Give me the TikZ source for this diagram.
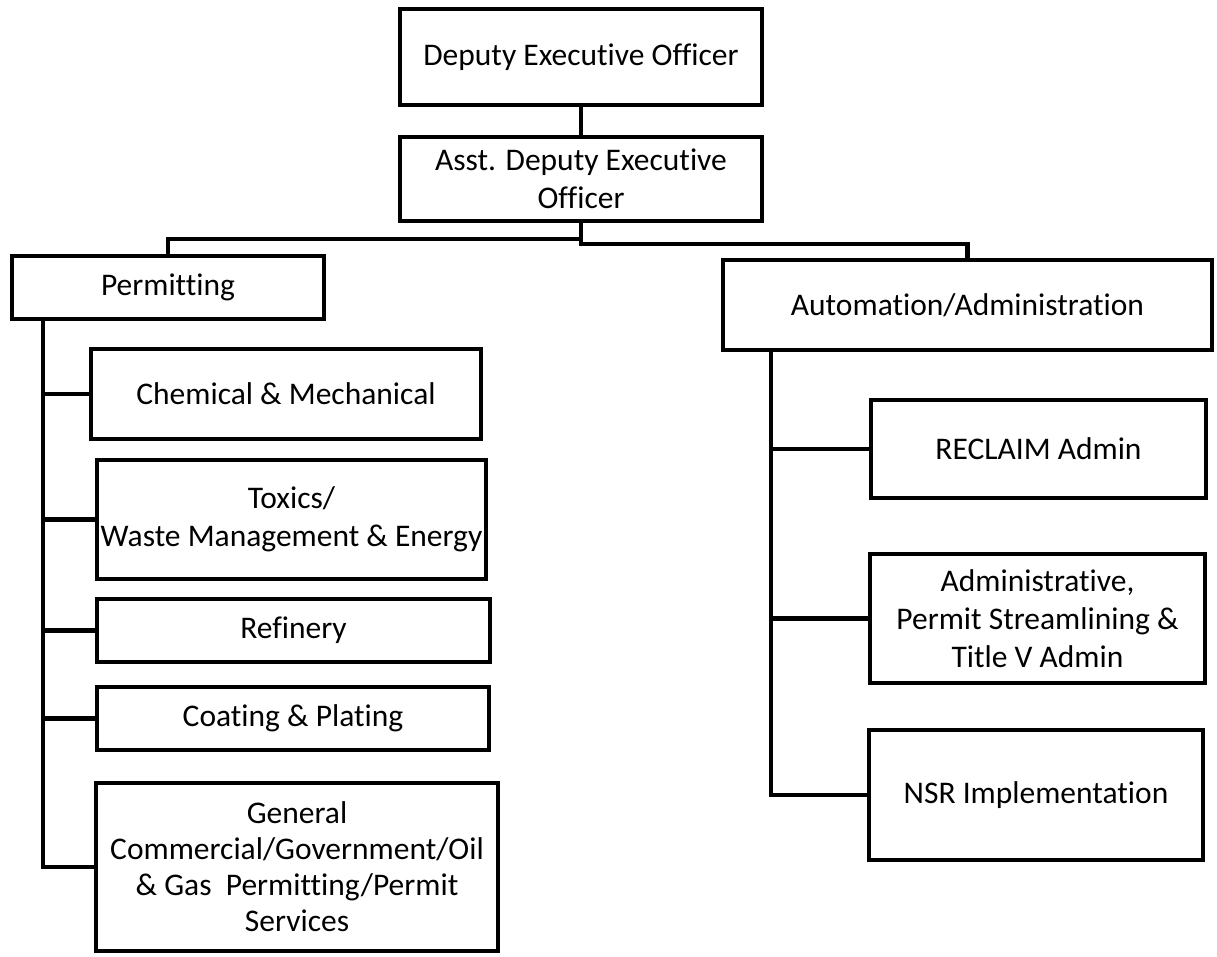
\documentclass[tikz,border=0pt]{standalone}
\usepackage{fontspec}
\setmainfont{Carlito}[RawFeature=-liga]
\begin{document}
\begin{tikzpicture}[x=1pt,y=-1pt,
  orgbox/.style={draw=black, line width=4.2pt, rectangle, inner sep=0pt, outer sep=0pt,
    align=center, font=\fontsize{31.5}{38}\selectfont, fill=white},
  link/.style={draw=black, line width=4.2pt, line join=miter}]
\useasboundingbox[fill=white] (0,0) rectangle (1217,956);

% top
\node[orgbox, minimum width=362pt, minimum height=96pt] (dep) at (581,57) {Deputy Executive Officer};
\node[orgbox, minimum width=362pt, minimum height=84pt] (adep) at (581,179) {Asst. Deputy Executive\\Officer};

% left branch
\node[orgbox, minimum width=312pt, minimum height=63pt] (perm) at (168,287.5) {\raisebox{-3pt}{Permitting}};
\node[orgbox, minimum width=390pt, minimum height=90pt] (chem) at (286,394) {Chemical \& Mechanical};
\node[orgbox, minimum width=389pt, minimum height=119pt] (tox) at (291.5,519.5) {Toxics/\\Waste Management \& Energy};
\node[orgbox, minimum width=393pt, minimum height=63pt] (ref) at (293.5,630.5) {Refinery};
\node[orgbox, minimum width=392pt, minimum height=63pt] (coat) at (293,718.5) {Coating \& Plating};
\node[orgbox, minimum width=402pt, minimum height=168pt, font=\fontsize{31.5}{36}\selectfont] (gen) at (297,867) {General\\Commercial/Government/Oil\\\& Gas\ \ Permitting/Permit\\Services};

% right branch
\node[orgbox, minimum width=489pt, minimum height=90pt] (auto) at (967.5,305) {\raisebox{-2pt}{Automation/Administration}};
\node[orgbox, minimum width=335pt, minimum height=98pt] (recl) at (1038.5,449) {RECLAIM Admin};
\node[orgbox, minimum width=335pt, minimum height=129pt] (adm) at (1037.5,618.5) {Administrative,\\Permit Streamlining \&\\Title V Admin};
\node[orgbox, minimum width=334pt, minimum height=130pt] (nsr) at (1036,795) {NSR Implementation};

% junction coordinates
\coordinate (jl) at (581,239);
\coordinate (jr) at (581,244);
\coordinate (ltop) at (43,321);
\coordinate (rtop) at (771,352);

% connectors
\draw[link] (dep.south) -- (adep.north);
\draw[link] (adep.south) -- (jl) -| (perm.north);
\draw[link] (adep.south) -- (jr) -| (auto.north);

\draw[link] (ltop) |- (gen.west);
\draw[link] (ltop |- chem.west) -- (chem.west);
\draw[link] (ltop |- tox.west) -- (tox.west);
\draw[link] (ltop |- ref.west) -- (ref.west);
\draw[link] (ltop |- coat.west) -- (coat.west);

\draw[link] (rtop) |- (nsr.west);
\draw[link] (rtop |- recl.west) -- (recl.west);
\draw[link] (rtop |- adm.west) -- (adm.west);
\end{tikzpicture}
\end{document}
